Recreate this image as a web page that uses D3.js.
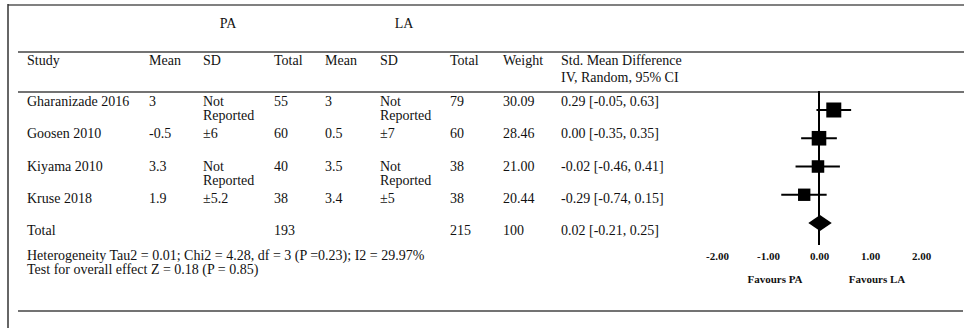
<!DOCTYPE html>
<html>
<head>
<meta charset="utf-8">
<script src="https://cdn.jsdelivr.net/npm/d3@7"></script>
<style>
  body { margin: 0; background: #fff; }
  text { font-family: 'Liberation Serif', 'Times New Roman', serif; fill: #111; }
</style>
</head>
<body>
<div id="chart"></div>
<script>
const studies = ['Gharanizade 2016', 'Goosen 2010', 'Kiyama 2010', 'Kruse 2018']
const paMean = ['3', '-0.5', '3.3', '1.9']
const paSD = ['Not Reported', '±6', 'Not Reported', '±5.2']
const paTotal = [55, 60, 40, 38]
const laMean = ['3', '0.5', '3.5', '3.4']
const laSD = ['Not Reported', '±7', 'Not Reported', '±5']
const laTotal = [79, 60, 38, 38]
const weights = [30.09, 28.46, 21.00, 20.44]
const smd = [0.29, 0.00, -0.02, -0.29]
const ciLow = [-0.05, -0.35, -0.46, -0.74]
const ciHigh = [0.63, 0.35, 0.41, 0.15]

const totalPA = 193
const totalLA = 215
const totalWeight = 100
const pooled = [0.02, -0.21, 0.25]

const axisTicks = [-2, -1, 0, 1, 2]
const heterogeneity = 'Heterogeneity Tau2 = 0.01; Chi2 = 4.28, df = 3 (P =0.23); I2 = 29.97%'
const overallEffect = 'Test for overall effect Z = 0.18 (P = 0.85)'

const width = 964
const height = 328

const svg = d3.select('#chart')
  .append('svg')
  .attr('width', width)
  .attr('height', height)

svg.append('rect').attr('width', width).attr('height', height).attr('fill', '#fff')

// frame
svg.append('line').attr('x1', 8).attr('x2', width).attr('y1', 5).attr('y2', 5)
  .attr('stroke', '#808080').attr('stroke-width', 2)
svg.append('line').attr('x1', 8).attr('x2', 8).attr('y1', 4).attr('y2', height)
  .attr('stroke', '#333').attr('stroke-width', 1.5)

// horizontal rules
const rules = [52, 92, 311]
svg.selectAll('.rule')
  .data(rules)
  .enter()
  .append('line')
  .attr('class', 'rule')
  .attr('x1', 18)
  .attr('x2', (d, i) => i === 2 ? 963 : width)
  .attr('y1', d => d)
  .attr('y2', d => d)
  .attr('stroke', '#444')
  .attr('stroke-width', 1.5)

// column positions
const cols = {
  study: 27, paMean: 149, paSD: 203, paTotal: 274,
  laMean: 325, laSD: 380, laTotal: 450, weight: 503, smd: 561
}

// group headers
svg.append('text').text('PA').attr('x', 228).attr('y', 28)
  .attr('text-anchor', 'middle').attr('font-size', 14)
svg.append('text').text('LA').attr('x', 404).attr('y', 28)
  .attr('text-anchor', 'middle').attr('font-size', 14)

const headers = [
  ['Study', cols.study], ['Mean', cols.paMean], ['SD', cols.paSD], ['Total', cols.paTotal],
  ['Mean', cols.laMean], ['SD', cols.laSD], ['Total', cols.laTotal], ['Weight', cols.weight],
  ['Std. Mean Difference', cols.smd]
]
svg.selectAll('.hdr')
  .data(headers)
  .enter()
  .append('text')
  .attr('class', 'hdr')
  .attr('x', d => d[1])
  .attr('y', 65)
  .attr('font-size', 14)
  .text(d => d[0])
svg.append('text').text('IV, Random, 95% CI').attr('x', cols.smd).attr('y', 82).attr('font-size', 14)

// row baselines
const rowY = d3.scaleLinear().domain([0, 4]).range([106, 235])
// plain hyphen for negatives, like the source table
const fmt2 = v => d3.format('.2f')(v).replace('\u2212', '-')
const ciText = (m, lo, hi) => `${fmt2(m)} [${fmt2(lo)}, ${fmt2(hi)}]`

const rows = studies.map((s, i) => ({
  cells: [
    [s, cols.study], [paMean[i], cols.paMean], [paSD[i], cols.paSD], [paTotal[i], cols.paTotal],
    [laMean[i], cols.laMean], [laSD[i], cols.laSD], [laTotal[i], cols.laTotal],
    [fmt2(weights[i]), cols.weight], [ciText(smd[i], ciLow[i], ciHigh[i]), cols.smd]
  ]
}))
rows.push({
  cells: [
    ['Total', cols.study], [totalPA, cols.paTotal], [totalLA, cols.laTotal],
    [totalWeight, cols.weight], [ciText(pooled[0], pooled[1], pooled[2]), cols.smd]
  ]
})

rows.forEach((r, i) => {
  const g = svg.append('g').attr('transform', `translate(0,${rowY(i)})`)
  r.cells.forEach(c => {
    const t = g.append('text').attr('x', c[1]).attr('font-size', 14)
    const str = String(c[0])
    if (str === 'Not Reported') {
      t.append('tspan').attr('x', c[1]).attr('y', 0).text('Not')
      t.append('tspan').attr('x', c[1]).attr('y', 14).text('Reported')
    } else {
      t.attr('y', 0).text(str)
    }
  })
})

svg.append('text').text(heterogeneity).attr('x', 27).attr('y', 260).attr('font-size', 14)
svg.append('text').text(overallEffect).attr('x', 27).attr('y', 274).attr('font-size', 14)

// forest plot
const x = d3.scaleLinear().domain([-2, 2]).range([717, 921])
const fy = d3.scaleLinear().domain([0, 4]).range([110, 223])
const size = d3.scaleSqrt().domain([0, d3.max(weights)]).range([0, 15])

svg.append('line')
  .attr('x1', x(0)).attr('x2', x(0))
  .attr('y1', 91).attr('y2', 245)
  .attr('stroke', '#000').attr('stroke-width', 2)

const forest = svg.selectAll('.study')
  .data(studies)
  .enter()
  .append('g')
  .attr('class', 'study')
  .attr('transform', (d, i) => `translate(0,${fy(i)})`)

forest.append('line')
  .attr('x1', (d, i) => x(ciLow[i]))
  .attr('x2', (d, i) => x(ciHigh[i]))
  .attr('stroke', '#000')
  .attr('stroke-width', 2)

forest.append('rect')
  .attr('x', (d, i) => x(smd[i]) - size(weights[i]) / 2)
  .attr('y', (d, i) => -size(weights[i]) / 2)
  .attr('width', (d, i) => size(weights[i]))
  .attr('height', (d, i) => size(weights[i]))
  .attr('fill', '#000')

const dy = fy(4)
svg.append('path')
  .attr('d', `M${x(pooled[1])},${dy} L${x(pooled[0])},${dy - 8} L${x(pooled[2])},${dy} L${x(pooled[0])},${dy + 8} Z`)
  .attr('fill', '#000')

const axis = svg.append('g')
  .attr('transform', 'translate(0,252)')
  .call(d3.axisBottom(x).tickValues(axisTicks).tickSize(0).tickPadding(0).tickFormat(fmt2))
axis.select('.domain').remove()
axis.selectAll('text')
  .attr('dy', '0.71em')
  .attr('font-size', 11)
  .attr('font-weight', 'bold')
  .attr('font-family', "'Liberation Serif', 'Times New Roman', serif")
  .attr('fill', '#111')

svg.append('text').text('Favours PA').attr('x', 775).attr('y', 283)
  .attr('text-anchor', 'middle').attr('font-size', 11).attr('font-weight', 'bold')
svg.append('text').text('Favours LA').attr('x', 877).attr('y', 283)
  .attr('text-anchor', 'middle').attr('font-size', 11).attr('font-weight', 'bold')
</script>
</body>
</html>
